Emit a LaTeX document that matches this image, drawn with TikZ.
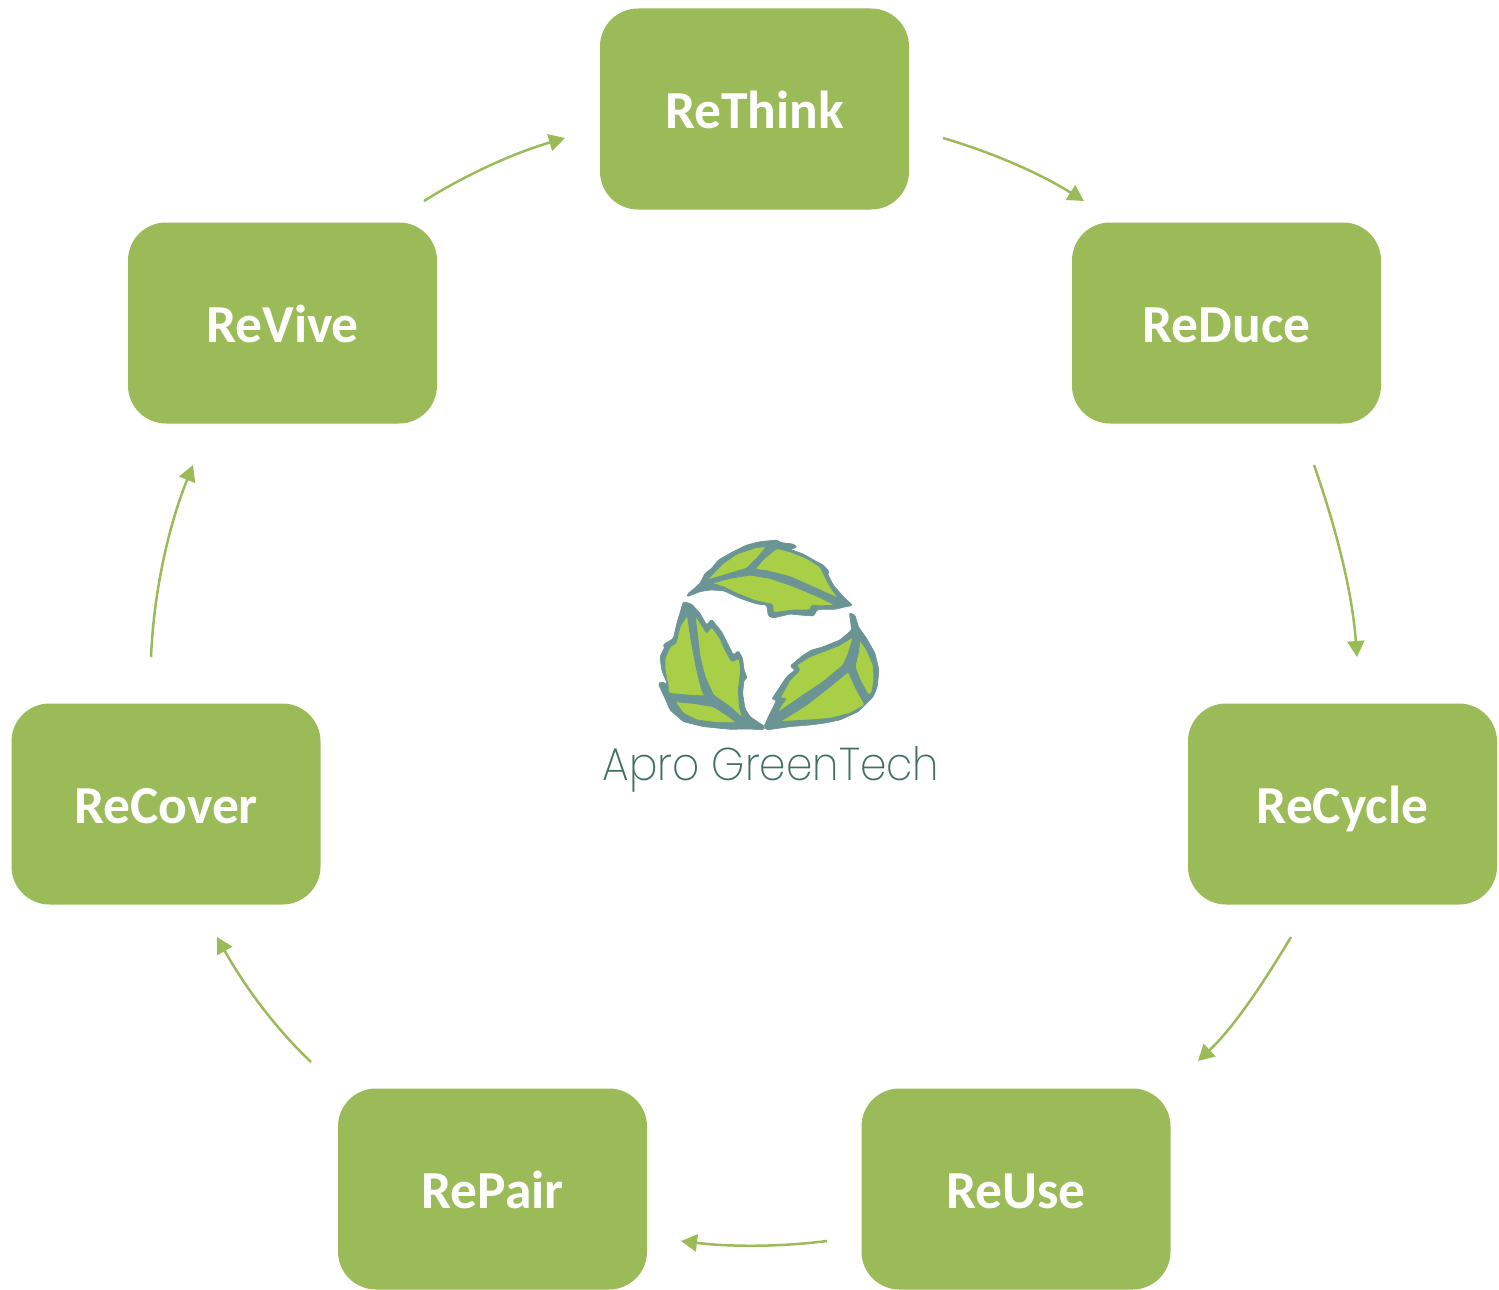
\documentclass[tikz,border=0pt]{standalone}
\usepackage{fontspec}
\setmainfont{Carlito}
\newfontfamily\logofont{Poppins ExtraLight}
\usetikzlibrary{arrows.meta}
\definecolor{boxgreen}{HTML}{9BBB59}
\definecolor{leaffill}{HTML}{A8CF45}
\definecolor{leafline}{HTML}{6B9494}
\definecolor{logotext}{HTML}{3F6F5F}
\tikzset{
  rbox/.style={fill=boxgreen,draw=none,rounded corners=38pt,minimum width=309pt,minimum height=201pt,inner sep=0pt,text=white,text height=38pt,text depth=0pt,font=\bfseries\fontsize{53.5}{53.5}\selectfont},
  cyc/.style={draw=boxgreen,line width=2.5pt,-{Triangle[length=16pt,width=17pt]}},
  leafouter/.style={fill=leafline,draw=leafline,line width=0.6pt,rounded corners=1.5pt},
  leafpanel/.style={fill=leaffill,draw=leafline,line width=0.8pt,rounded corners=1.5pt}
}
\begin{document}
\begin{tikzpicture}[x=1pt,y=-1pt]
\useasboundingbox (0,0) rectangle (1499,1290);
\node[rbox] (think) at (754.5,109) {ReThink};
\node[rbox] (duce) at (1226.5,323) {ReDuce};
\node[rbox] (cycle) at (1342.5,804) {ReCycle};
\node[rbox] (use) at (1016,1189) {ReUse};
\node[rbox] (pair) at (492.5,1189) {RePair};
\node[rbox] (cover) at (166,804) {ReCover};
\node[rbox] (vive) at (282.5,323) {ReVive};
\coordinate (a1) at (943,138); \coordinate (b1) at (1084,201);
\coordinate (a2) at (1314,465); \coordinate (b2) at (1357,657);
\coordinate (a3) at (1291,937); \coordinate (b3) at (1198,1061);
\coordinate (a4) at (827,1241); \coordinate (b4) at (681,1241);
\coordinate (a5) at (311,1062); \coordinate (b5) at (217,937);
\coordinate (a6) at (151,657); \coordinate (b6) at (193,465);
\coordinate (a7) at (424,201); \coordinate (b7) at (565,138);
\draw[cyc] (a1) .. controls (994,153) and (1041,174) .. (b1);
\draw[cyc] (a2) .. controls (1335,525) and (1352,589) .. (b2);
\draw[cyc] (a3) .. controls (1261,987) and (1233,1028) .. (b3);
\draw[cyc] (a4) .. controls (779,1247) and (731,1247) .. (b4);
\draw[cyc] (a5) .. controls (276,1029) and (245,987) .. (b5);
\draw[cyc] (a6) .. controls (154,589) and (169,525) .. (b6);
\draw[cyc] (a7) .. controls (467,174) and (514,153) .. (b7);
\begin{scope}[shift={(590,530)},x=0.3333pt,y=-0.3333pt]
% top leaf
\fill[leafouter] (292,192)--(310,178)--(330,160)--(345,130)--(365,115)--(385,90)--(420,70)--(470,45)--(510,35)--(560,30)--(575,38)--(610,42)--(622,52)--(600,58)--(640,72)--(680,95)--(700,105)--(718,125)--(712,130)--(730,165)--(760,200)--(788,226)--(760,232)--(735,238)--(695,238)--(680,240)--(672,258)--(640,256)--(600,252)--(550,264)--(535,258)--(530,225)--(500,222)--(450,205)--(400,182)--(360,180)--(330,185)--(292,200)--cycle;
\fill[leafpanel] (352,150)--(372,128)--(400,100)--(440,72)--(500,52)--(530,50)--(500,85)--(470,115)--(420,130)--(380,142)--cycle;
\fill[leafpanel] (495,118)--(520,88)--(560,55)--(600,65)--(650,85)--(690,110)--(700,130)--(720,170)--(745,205)--(690,180)--(600,140)--(530,122)--cycle;
\fill[leafpanel] (365,160)--(420,145)--(480,135)--(540,145)--(600,165)--(680,198)--(735,225)--(690,228)--(665,225)--(660,240)--(610,240)--(550,248)--(548,222)--(530,220)--(490,210)--(440,190)--(400,170)--cycle;
% left leaf
\fill[leafouter] (280,215)--(305,222)--(330,250)--(350,285)--(365,268)--(395,305)--(415,345)--(430,375)--(445,362)--(458,385)--(462,420)--(472,445)--(462,450)--(458,490)--(465,535)--(480,560)--(525,590)--(520,600)--(480,597)--(420,598)--(340,590)--(280,575)--(240,540)--(225,505)--(205,462)--(212,455)--(232,462)--(215,420)--(210,380)--(225,350)--(218,345)--(235,335)--(250,325)--(262,275)--cycle;
\fill[leafpanel] (292,255)--(303,330)--(318,410)--(335,480)--(345,498)--(290,495)--(235,490)--(235,470)--(225,420)--(225,385)--(240,350)--(258,340)--(270,290)--cycle;
\fill[leafpanel] (315,255)--(335,285)--(350,310)--(365,290)--(390,325)--(405,360)--(425,395)--(448,385)--(452,420)--(445,480)--(448,530)--(458,565)--(420,530)--(370,495)--(345,440)--(330,380)--(322,310)--cycle;
\fill[leafpanel] (255,515)--(310,520)--(370,530)--(410,555)--(440,578)--(380,578)--(320,570)--(280,550)--cycle;
% right leaf
\fill[leafouter] (778,248)--(795,255)--(805,290)--(830,325)--(855,370)--(867,420)--(862,470)--(850,500)--(830,520)--(805,545)--(750,570)--(700,580)--(660,585)--(600,590)--(530,600)--(522,590)--(535,560)--(550,530)--(560,510)--(545,508)--(590,440)--(615,420)--(600,408)--(640,375)--(665,360)--(700,350)--(750,330)--(785,300)--cycle;
\fill[leafpanel] (560,550)--(575,525)--(590,505)--(570,505)--(600,450)--(630,420)--(620,405)--(660,380)--(700,365)--(750,345)--(790,320)--(775,370)--(760,405)--(700,455)--(640,495)--cycle;
\fill[leafpanel] (570,575)--(650,525)--(720,470)--(775,425)--(800,480)--(825,525)--(780,550)--(720,565)--(660,570)--cycle;
\fill[leafpanel] (810,330)--(830,360)--(850,405)--(852,450)--(845,490)--(835,495)--(810,450)--(795,410)--(805,370)--cycle;
\end{scope}
\node[inner sep=0pt,text=logotext,font=\logofont\fontsize{46}{46}\selectfont] (logo) at (771,769) {\scalebox{0.92}[1]{Apro GreenTech}};
\end{tikzpicture}
\end{document}
